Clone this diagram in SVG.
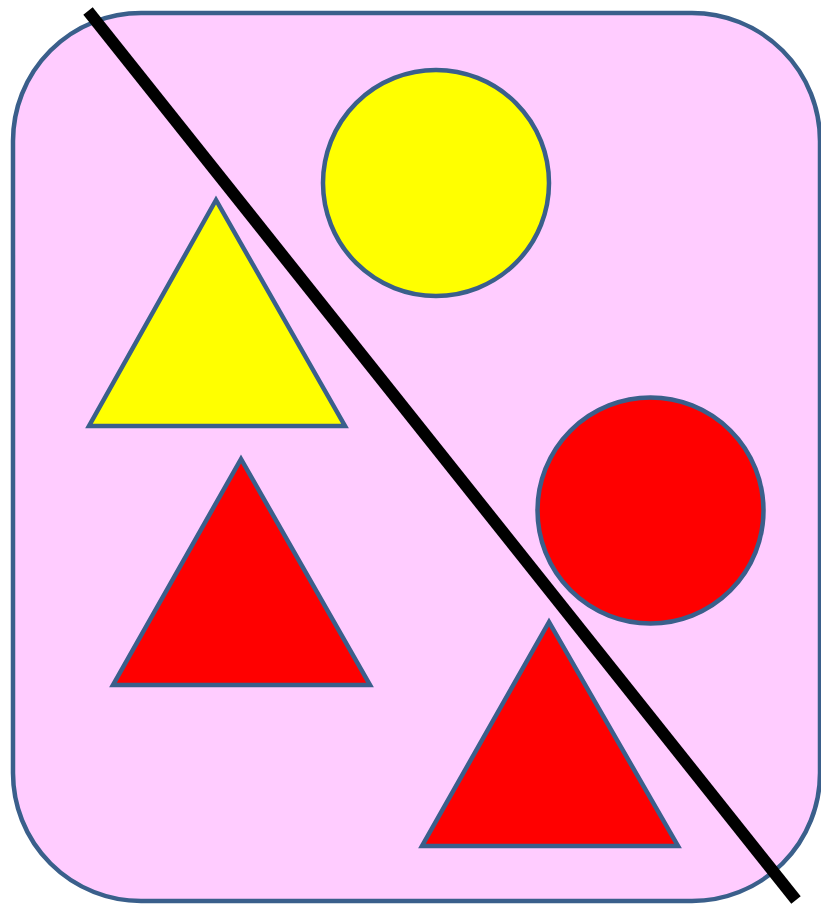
<svg xmlns="http://www.w3.org/2000/svg" width="821" height="904" viewBox="0 0 821 904">
<style>
.s{stroke:#3a5f8b;stroke-width:4.5;stroke-linejoin:miter}
.y{fill:#ffff00}
.r{fill:#ff0000}
</style>
<rect width="821" height="904" fill="#ffffff"/>
<g id="board">
<rect class="s" x="13" y="13" width="807" height="888" rx="128" ry="128" fill="#ffccff"/>
</g>
<g id="yellow-circle"><circle class="s y" cx="436" cy="183" r="113"/></g>
<g id="yellow-triangle"><polygon class="s y" points="216,200 89,426 345,426"/></g>
<g id="red-circle"><circle class="s r" cx="650.5" cy="510.5" r="113"/></g>
<g id="red-triangle-1"><polygon class="s r" points="241,459 113,685 370,685"/></g>
<g id="red-triangle-2"><polygon class="s r" points="549,622 422,846 678,846"/></g>
<g id="connectors">
<line x1="88" y1="11" x2="796" y2="900" stroke="#000000" stroke-width="12"/>
</g>
</svg>
